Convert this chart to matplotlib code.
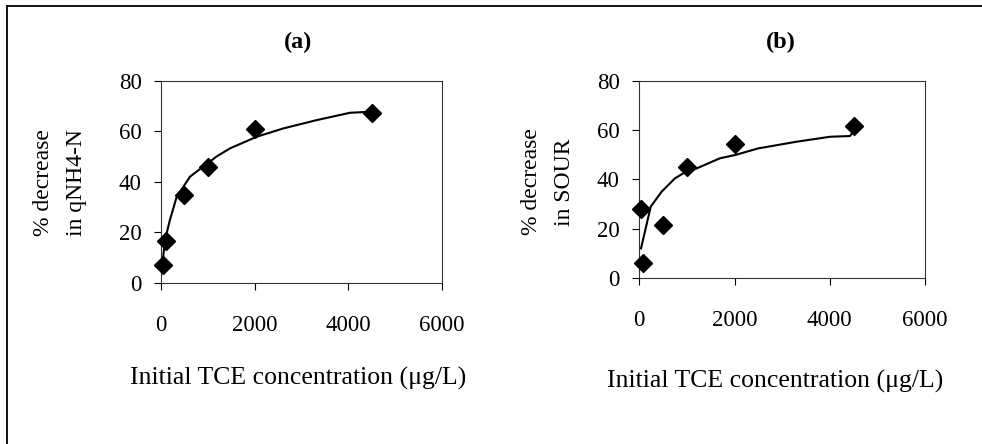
import matplotlib
matplotlib.use('Agg')
import matplotlib.pyplot as plt
from matplotlib.lines import Line2D

# measured points
conc_a = [50, 100, 500, 1000, 2000, 4500]
pct_a = [7.0, 16.6, 34.6, 46.0, 61.0, 67.3]
conc_b = [35, 80, 500, 1000, 2000, 4500]
pct_b = [28.2, 6.3, 21.7, 45.2, 54.2, 61.5]

# fitted curves
fit_x_a = [36, 85, 190, 335, 620, 975, 1190, 1475, 2045, 2615, 3330, 4040, 4470]
fit_y_a = [8.3, 16.9, 24.8, 34.0, 42.0, 47.0, 50.0, 53.2, 57.8, 61.1, 64.4, 67.3, 67.7]
fit_x_b = [36, 240, 470, 750, 925, 1205, 1695, 2010, 2500, 3305, 4005, 4425, 4500]
fit_y_b = [12.1, 29.0, 35.1, 40.5, 42.5, 44.5, 48.6, 49.9, 52.6, 55.3, 57.3, 57.6, 59.5]

x_ticks = [0, 2000, 4000, 6000]
y_ticks = [0, 20, 40, 60, 80]
titles = ['(a)', '(b)']
ylabels = ['% decrease\nin qNH4-N', '% decrease\nin SOUR']
xlabel = 'Initial TCE concentration (\u03bcg/L)'

plt.rcParams['font.family'] = ['Liberation Serif', 'DejaVu Serif']

W, H = 982, 444
fig = plt.figure(figsize=(W / 100, H / 100), dpi=100)


def px(x0, y0, x1, y1):
    # pixel box -> figure fraction rect
    return [x0 / W, 1 - y1 / H, (x1 - x0) / W, (y1 - y0) / H]


boxes = [px(161, 80.7, 441.7, 282.7), px(639.3, 80.7, 925, 278.3)]
title_pos = [(298, 42.7), (781, 42.7)]
ylabel_pos = [(60, 183), (548, 182)]
xlabel_pos = [(298, 378), (775, 381.7)]
data = [(conc_a, pct_a, fit_x_a, fit_y_a), (conc_b, pct_b, fit_x_b, fit_y_b)]

for i in range(2):
    ax = fig.add_axes(boxes[i])
    cx, cy, fx, fy = data[i]
    ax.plot(fx, fy, color='black', linewidth=1.5, zorder=2)
    ax.plot(cx, cy, linestyle='none', marker='D', markersize=9,
            color='black', zorder=3, clip_on=False)
    ax.set_xlim(0, 6000)
    ax.set_ylim(0, 80)
    ax.set_xticks(x_ticks)
    ax.set_yticks(y_ticks)
    ax.tick_params(axis='x', direction='out', length=5, width=0.8,
                   pad=18, labelsize=16.5)
    ax.tick_params(axis='y', direction='out', length=5, width=0.8,
                   pad=9, labelsize=16.5)
    for s in ax.spines.values():
        s.set_linewidth(0.8)
        s.set_color('#333333')

    tx, ty = title_pos[i]
    fig.text(tx / W, 1 - ty / H, titles[i], ha='center', va='center',
             fontsize=17.5, fontweight='bold')
    lx, ly = ylabel_pos[i]
    fig.text(lx / W, 1 - ly / H, ylabels[i], ha='center', va='center',
             rotation=90, fontsize=17, linespacing=1.8, multialignment='center')
    xx, xy = xlabel_pos[i]
    fig.text(xx / W, 1 - xy / H, xlabel, ha='center', va='center', fontsize=18.5)

# outer frame (only top and left edges show)
fig.add_artist(Line2D([7 / W, 1.0], [1 - 6 / H, 1 - 6 / H], color='black',
                      linewidth=1.3, transform=fig.transFigure))
fig.add_artist(Line2D([7 / W, 7 / W], [0.0, 1 - 6 / H], color='black',
                      linewidth=1.3, transform=fig.transFigure))

fig.savefig('out.png', dpi=100)
